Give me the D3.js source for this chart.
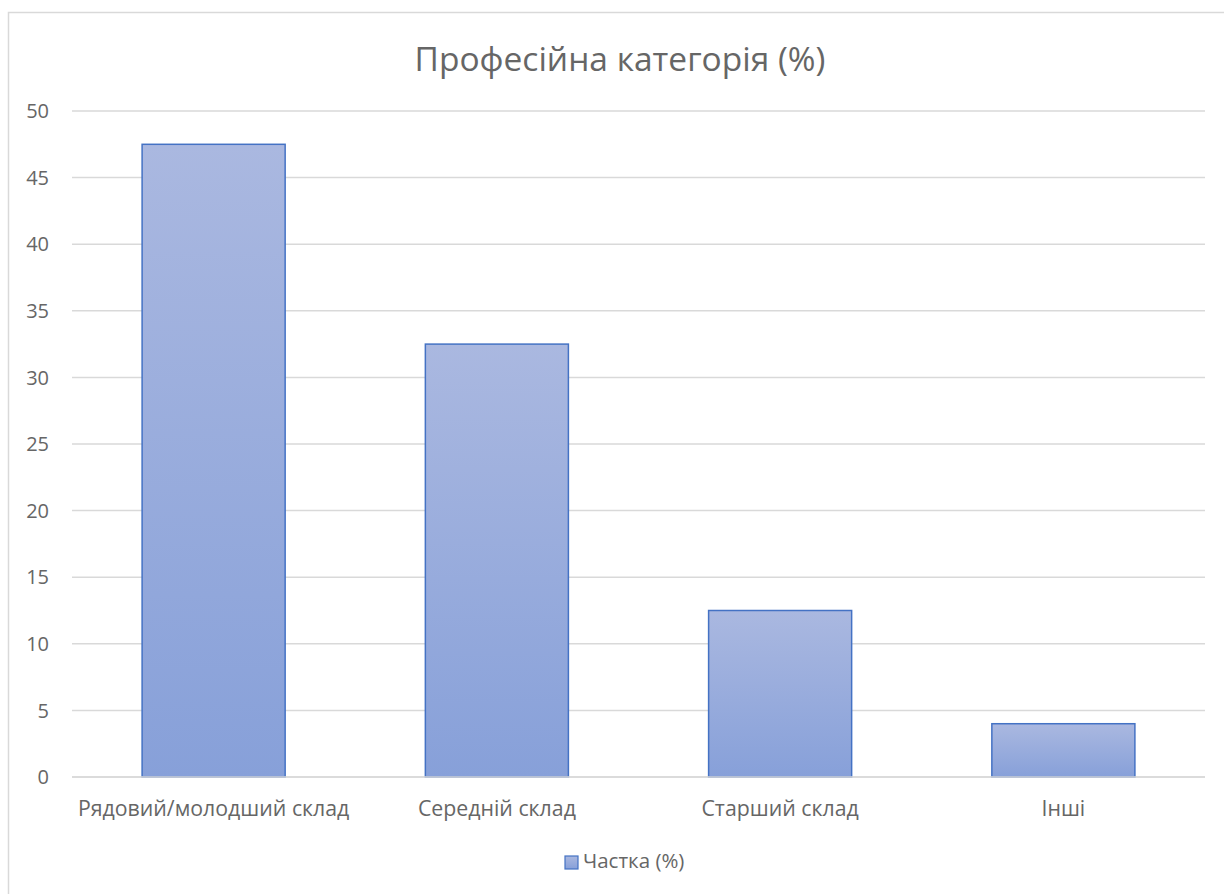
<!DOCTYPE html>
<html>
<head>
<meta charset="utf-8">
<script src="https://cdn.jsdelivr.net/npm/d3@7"></script>
<style>
body { margin: 0; background: #fff; }
text { font-family: "Open Sans", sans-serif; fill: #666666; }
</style>
</head>
<body>
<svg id="chart" width="1224" height="894"></svg>
<script>
// chart data
var categories = ['Рядовий/молодший склад', 'Середній склад', 'Старший склад', 'Інші'];
var shares = [47.5, 32.5, 12.5, 4];
var yTicks = [0, 5, 10, 15, 20, 25, 30, 35, 40, 45, 50];
var seriesName = 'Частка (%)';
var chartTitle = 'Професійна категорія (%)';

var svg = d3.select('#chart');

// outer frame of the chart area
svg.append('rect')
    .attr('x', 8.5).attr('y', 12.5)
    .attr('width', 1240).attr('height', 900)
    .attr('fill', 'none')
    .attr('stroke', '#d9d9d9')
    .attr('stroke-width', 1.5);

var plot = {l: 72, r: 1205, t: 111, b: 777};

var x = d3.scaleBand()
    .domain(categories)
    .range([plot.l, plot.r])
    .paddingInner(0.495)
    .paddingOuter(0.2475);

var y = d3.scaleLinear()
    .domain([0, 50])
    .range([plot.b, plot.t]);

var defs = svg.append('defs');
var grad = defs.append('linearGradient')
    .attr('id', 'barGrad')
    .attr('x1', 0).attr('y1', 0).attr('x2', 0).attr('y2', 1);
grad.append('stop').attr('offset', '0%').attr('stop-color', '#aab8e0');
grad.append('stop').attr('offset', '100%').attr('stop-color', '#87a0d9');

// gridlines
svg.append('g')
    .selectAll('line')
    .data(yTicks)
    .enter().append('line')
    .attr('x1', plot.l).attr('x2', plot.r)
    .attr('y1', function(d) { return y(d); })
    .attr('y2', function(d) { return y(d); })
    .attr('stroke', '#d9d9d9')
    .attr('stroke-width', 1.5);

// y tick labels
svg.append('g')
    .selectAll('text')
    .data(yTicks)
    .enter().append('text')
    .attr('x', 49)
    .attr('y', function(d) { return y(d); })
    .attr('dy', '0.36em')
    .attr('text-anchor', 'end')
    .style('font-size', '20px')
    .text(function(d) { return d; });

// bars
svg.append('g')
    .selectAll('rect')
    .data(shares)
    .enter().append('rect')
    .attr('x', function(d, i) { return x(categories[i]); })
    .attr('y', function(d) { return y(d); })
    .attr('width', x.bandwidth())
    .attr('height', function(d) { return y(0) - y(d); })
    .attr('fill', 'url(#barGrad)')
    .attr('stroke', '#4472c4')
    .attr('stroke-width', 1.5);

// zero line drawn over bars
svg.append('line')
    .attr('x1', plot.l).attr('x2', plot.r)
    .attr('y1', y(0)).attr('y2', y(0))
    .attr('stroke', '#d9d9d9')
    .attr('stroke-width', 1.5);

// category labels
svg.append('g')
    .selectAll('text')
    .data(categories)
    .enter().append('text')
    .attr('x', function(d) { return x(d) + x.bandwidth() / 2; })
    .attr('y', 816)
    .attr('text-anchor', 'middle')
    .style('font-size', '21.3px')
    .text(function(d) { return d; });

// title
svg.append('text')
    .attr('x', 620)
    .attr('y', 71)
    .attr('text-anchor', 'middle')
    .style('font-size', '33.5px')
    .text(chartTitle);

// legend
svg.append('rect')
    .attr('x', 565).attr('y', 856)
    .attr('width', 13).attr('height', 13)
    .attr('fill', 'url(#barGrad)')
    .attr('stroke', '#4472c4')
    .attr('stroke-width', 1.2);
svg.append('text')
    .attr('x', 583)
    .attr('y', 868)
    .style('font-size', '20.5px')
    .text(seriesName);
</script>
</body>
</html>
